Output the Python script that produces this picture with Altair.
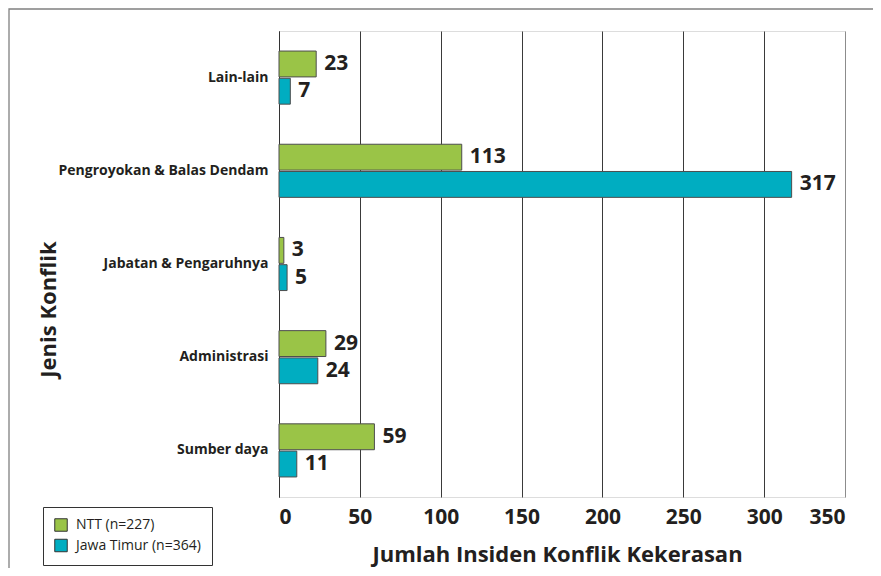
import altair as alt
import pandas as pd

categories = ["Lain-lain", "Pengroyokan & Balas Dendam", "Jabatan & Pengaruhnya",
              "Administrasi", "Sumber daya"]
series = ["NTT (n=227)", "Jawa Timur (n=364)"]
ntt_values = [23, 113, 3, 29, 59]
jatim_values = [7, 317, 5, 24, 11]
x_ticks = [0, 50, 100, 150, 200, 250, 300, 350]

colors = ["#9AC447", "#00ADC1"]
text_color = "#231F20"
font = "Open Sans"

rows = []
for c, a, b in zip(categories, ntt_values, jatim_values):
    rows.append({"Jenis": c, "Seri": series[0], "Jumlah": a})
    rows.append({"Jenis": c, "Seri": series[1], "Jumlah": b})
df = pd.DataFrame(rows)

base = alt.Chart(df).encode(
    y=alt.Y("Jenis:N", sort=categories,
            scale=alt.Scale(paddingInner=0.43, paddingOuter=0.215),
            axis=alt.Axis(title="Jenis Konflik", ticks=False, grid=False,
                          domainColor="#333333", labelFont=font, labelFontWeight="bold",
                          labelFontSize=14, labelColor=text_color, labelPadding=11,
                          labelLimit=0,
                          titleFont=font, titleFontWeight="bold", titleFontSize=22,
                          titleColor=text_color, titleAngle=270, titleX=-224, titleY=278,
                          titleBaseline="alphabetic", titleAlign="center")),
    yOffset=alt.YOffset("Seri:N", sort=series, scale=alt.Scale(paddingInner=0.05)),
    x=alt.X("Jumlah:Q", scale=alt.Scale(domain=[0, 350], nice=False),
            axis=alt.Axis(title="Jumlah Insiden Konflik Kekerasan", values=x_ticks,
                          ticks=False, tickSize=0, domain=False, grid=True,
                          gridColor={"condition": {"test": "datum.value === 350", "value": "#8c8c8c"},
                                     "value": "#3a3a3a"},
                          gridWidth=1, labelFont=font, labelFontWeight="bold",
                          labelFontSize=21, labelColor=text_color, labelPadding=9,
                          titleFont=font, titleFontWeight="bold", titleFontSize=22,
                          titleColor=text_color, titleX=278, titleY=64,
                          titleBaseline="alphabetic", titleAlign="center")),
)

bars = base.mark_bar(stroke="#4d4d4d", strokeWidth=1).encode(
    color=alt.Color("Seri:N", sort=series,
                    scale=alt.Scale(domain=series, range=colors),
                    legend=alt.Legend(title=None, orient="none", legendX=-236, legendY=476,
                                      direction="vertical", symbolType="square",
                                      symbolSize=156, symbolStrokeColor="#333333",
                                      symbolStrokeWidth=1, labelFont=font,
                                      labelFontSize=14, labelColor=text_color,
                                      labelOffset=8, rowPadding=2.5, padding=11,
                                      strokeColor="#333333", fillColor="white"))
)

labels = base.mark_text(align="left", baseline="middle", dx=8, font=font,
                        fontWeight="bold", fontSize=21, color=text_color).encode(
    text="Jumlah:Q"
)

frame = alt.Chart(pd.DataFrame({"a": [0]})).mark_rect(
    filled=False, stroke="#808080", strokeWidth=1.3
).encode(x=alt.value(-270), x2=alt.value(700), y=alt.value(-22), y2=alt.value(650))

chart = alt.layer(frame, bars, labels).properties(
    width=566, height=466,
    autosize=alt.AutoSizeParams(type="none"),
    padding={"left": 271, "top": 23, "right": 28, "bottom": 71},
).configure_view(stroke="#8c8c8c", strokeWidth=1).configure(background="white")

chart.save("out.html", embed_options={"renderer": "svg", "actions": False})
